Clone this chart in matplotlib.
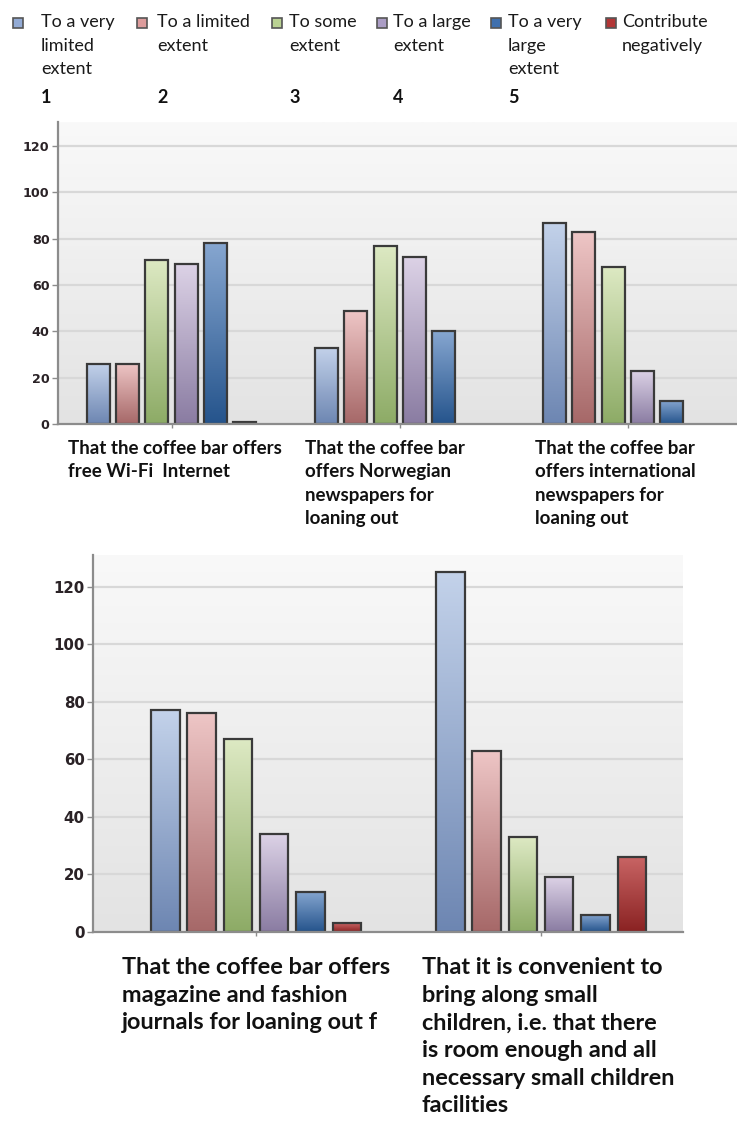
import numpy as np
import matplotlib.pyplot as plt
from matplotlib.colors import LinearSegmentedColormap

# answer scale
levels = ["To a very\nlimited\nextent", "To a limited\nextent", "To some\nextent",
          "To a large\nextent", "To a very\nlarge\nextent", "Contribute\nnegatively"]
level_nums = ["1", "2", "3", "4", "5", ""]

# statements (top panel / bottom panel)
top_labels = ["That the coffee bar offers\nfree Wi-Fi  Internet",
              "That the coffee bar\noffers Norwegian\nnewspapers for\nloaning out",
              "That the coffee bar\noffers international\nnewspapers for\nloaning out"]
bottom_labels = ["That the coffee bar offers\nmagazine and fashion\njournals for loaning out f",
                 "That it is convenient to\nbring along small\nchildren, i.e. that there\nis room enough and all\nnecessary small children\nfacilities"]

# counts per level, one list per statement
wifi = [26, 26, 71, 69, 78, 1]
norwegian_papers = [33, 49, 77, 72, 40, 0]
intl_papers = [87, 83, 68, 23, 10, 0]
magazines = [77, 76, 67, 34, 14, 3]
small_children = [125, 63, 33, 19, 6, 26]

top_values = [wifi, norwegian_papers, intl_papers]
bottom_values = [magazines, small_children]

# bar colours: (top of bar, bottom of bar), plus a flat swatch for the key
bar_grad = [("#c3d2ea", "#6d86b2"), ("#eec6c6", "#a66868"), ("#dde9c3", "#8dab66"),
            ("#dcd2e6", "#8a7ca2"), ("#86a6d0", "#25548c"), ("#c86464", "#8a2222")]
swatch = ["#93abd5", "#dd9c9c", "#bad293", "#ab9dc5", "#3f70ae", "#b23636"]

W, H = 737, 1127
fig = plt.figure(figsize=(W / 100, H / 100), dpi=100)


def px_axes(left, top, right, bottom):
    return fig.add_axes([left / W, 1 - bottom / H, (right - left) / W, (bottom - top) / H])


def shade(ax):
    bg = LinearSegmentedColormap.from_list("bg", ["#e3e3e3", "#f9f9f9"])
    ax.imshow(np.linspace(0, 1, 256).reshape(-1, 1), cmap=bg, origin="lower",
              extent=[0, 1, 0, 1], transform=ax.transAxes, aspect="auto", zorder=0)


def grad_bar(ax, x, w, h, c_top, c_bot):
    cmap = LinearSegmentedColormap.from_list("b", [c_bot, c_top])
    ax.imshow(np.linspace(0, 1, 128).reshape(-1, 1), cmap=cmap, origin="lower",
              extent=[x - w / 2, x + w / 2, 0, h], aspect="auto", zorder=3)
    ax.bar(x, h, w, facecolor="none", edgecolor="#3a3a3a", linewidth=1.6, zorder=4)


def panel(ax, values, step, width, xlim, ylim, tick_size):
    shade(ax)
    for g, vals in enumerate(values):
        for i, v in enumerate(vals):
            if v <= 0:
                continue
            grad_bar(ax, g + (i - 2.5) * step, width, v, *bar_grad[i])
    ax.set_xlim(*xlim)
    ax.set_ylim(*ylim)
    ax.set_yticks(range(0, 121, 20))
    ax.set_xticks(range(len(values)))
    ax.set_xticklabels([])
    for y in range(20, 121, 20):
        ax.axhline(y, color="#d8d8d8", lw=1.6, zorder=1)
    for s in ["top", "right"]:
        ax.spines[s].set_visible(False)
    for s in ["left", "bottom"]:
        ax.spines[s].set_color("#8c8c8c")
        ax.spines[s].set_linewidth(1.6)
        ax.spines[s].set_zorder(5)
    ax.tick_params(axis="y", length=4, width=1, color="#8c8c8c", pad=2,
                   labelsize=tick_size, labelcolor="#2a2226")
    ax.tick_params(axis="x", length=3, width=1, color="#8c8c8c")
    for t in ax.get_yticklabels():
        t.set_fontweight("bold")
        t.set_family("DejaVu Sans")


ax1 = px_axes(58, 122, 742, 424)
panel(ax1, top_values, 0.1285, 0.101, (-0.498, 2.50), (0, 130.4), 9.2)

ax2 = px_axes(93, 555, 683, 932)
panel(ax2, bottom_values, 0.1274, 0.100, (-0.572, 1.498), (0, 131), 10.8)

# statement captions
for lab, x in zip(top_labels, [68, 305, 535]):
    fig.text(x / W, 1 - 440 / H, lab, family="Lato", weight="bold", fontsize=13.5,
             va="top", ha="left", linespacing=1.46, color="#111111")
for lab, x in zip(bottom_labels, [122, 422]):
    fig.text(x / W, 1 - 957 / H, lab, family="Lato", weight="bold", fontsize=16.9,
             va="top", ha="left", linespacing=1.39, color="#111111")

# key along the top
sq_x = [13, 137, 272, 377, 491, 606]
txt_x = [41, 157, 289, 393, 508, 622]
for i in range(6):
    fig.patches.append(plt.Rectangle((sq_x[i] / W, 1 - 28 / H), 10 / W, 10 / H,
                                     transform=fig.transFigure, facecolor=swatch[i],
                                     edgecolor="#555555", lw=1.2))
    fig.text(txt_x[i] / W, 1 - 14 / H, levels[i], family="Lato", fontsize=13,
             va="top", ha="left", linespacing=1.58, color="#1a1a1a")
    if level_nums[i]:
        fig.text(txt_x[i] / W, 1 - 103 / H, level_nums[i], family="Lato", weight="bold",
                 fontsize=13, va="baseline", ha="left", color="#111111")

fig.savefig("out.png", dpi=100)
